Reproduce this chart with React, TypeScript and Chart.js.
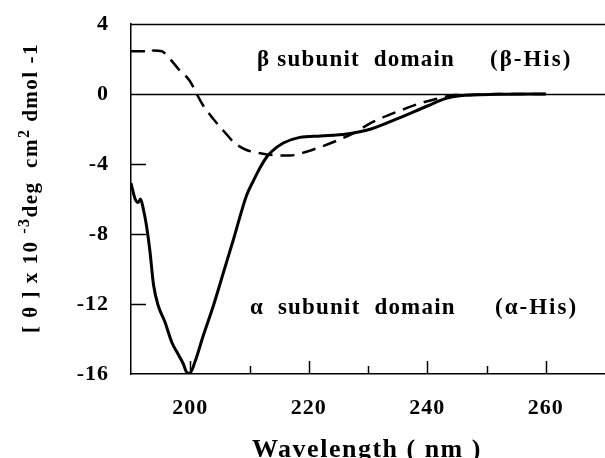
import React, { useEffect, useRef } from 'react';
import { Chart, registerables } from 'chart.js';

Chart.register(...registerables);

// α-His (solid)
const alphaWavelength = [190, 190.7, 191.2, 191.6, 192.1, 192.6, 193.2, 193.8, 194.6, 195.7, 196.9, 198.0, 198.8, 199.4, 199.9, 200.8, 202.2, 203.9, 205.6, 207.3, 209.5, 210.6, 211.8, 212.9, 213.7, 215.7, 218.5, 222, 226.4, 230.5, 235.4, 239.9, 243.2, 245.5, 252, 260];
const alphaTheta = [-5.1, -6.0, -6.2, -6.0, -6.6, -7.5, -9.0, -10.9, -12.1, -13.0, -14.2, -14.9, -15.4, -15.9, -15.95, -15.3, -13.8, -12.1, -10.2, -8.3, -5.8, -5.0, -4.2, -3.6, -3.3, -2.8, -2.48, -2.4, -2.29, -2.0, -1.35, -0.7, -0.25, -0.1, -0.02, 0];

// β-His (dashed)
const betaWavelength = [190, 192.4, 193.2, 193.8, 195.2, 196.6, 198.0, 199.9, 201.1, 202.2, 203.9, 205.6, 207.5, 209.5, 211.8, 214.3, 216.8, 219.6, 222.2, 224.5, 227.5, 230.5, 235.4, 239.3, 242.7, 244.5, 247.2, 252, 260];
const betaTheta = [2.44, 2.44, 2.35, 2.48, 2.44, 2.0, 1.43, 0.76, 0, -0.67, -1.43, -2.1, -2.8, -3.2, -3.38, -3.5, -3.52, -3.3, -3.0, -2.7, -2.25, -1.65, -0.95, -0.48, -0.19, -0.05, -0.05, 0, 0];

const xMin = 190;
const xMax = 270;
const xLabelTicks = [200, 220, 240, 260];
const xMinorTicks = [210, 230, 250];
const yMin = -16;
const yMax = 4;
const yMarkTicks = [-4, -8, -12];

const betaLabel = '\u03B2 subunit  domain';
const betaTag = '(\u03B2-His)';
const alphaLabel = '\u03B1  subunit  domain';
const alphaTag = '(\u03B1-His)';
const xTitle = 'Wavelength ( nm )';

const FONT = '"Liberation Serif", "Times New Roman", serif';

const decor = {
  id: 'decor',
  beforeDraw(chart: any) {
    chart.ctx.letterSpacing = '1px';
  },
  afterDraw(chart: any) {
    const { ctx, chartArea } = chart;
    const x = chart.scales.x;
    const y = chart.scales.y;
    ctx.save();
    ctx.strokeStyle = '#000';
    ctx.lineWidth = 1.5;
    const seg = (x1: number, y1: number, x2: number, y2: number) => {
      ctx.beginPath();
      ctx.moveTo(x1, y1);
      ctx.lineTo(x2, y2);
      ctx.stroke();
    };
    for (const v of [yMax, 0]) {
      const py = Math.round(y.getPixelForValue(v)) + 0.5;
      seg(chartArea.left, py, chartArea.right, py);
    }
    for (const v of yMarkTicks) {
      const py = Math.round(y.getPixelForValue(v)) + 0.5;
      seg(chartArea.left, py, chartArea.left + 15, py);
    }
    for (const v of xLabelTicks) {
      const px = Math.round(x.getPixelForValue(v)) + 0.5;
      seg(px, chartArea.bottom, px, chartArea.bottom - 13);
    }
    for (const v of xMinorTicks) {
      const px = Math.round(x.getPixelForValue(v)) + 0.5;
      seg(px, chartArea.bottom, px, chartArea.bottom - 8);
    }

    ctx.fillStyle = '#000';
    ctx.textBaseline = 'alphabetic';
    ctx.textAlign = 'left';
    ctx.font = `bold 23px ${FONT}`;
    ctx.letterSpacing = '1.2px';
    ctx.fillText(betaLabel, 257, 66);
    ctx.fillText(alphaLabel, 250, 314);
    ctx.letterSpacing = '2px';
    ctx.fillText(betaTag, 490, 66);
    ctx.fillText(alphaTag, 495, 314);

    // x title
    ctx.font = `bold 26px ${FONT}`;
    ctx.letterSpacing = '1.5px';
    ctx.textAlign = 'center';
    ctx.fillText(xTitle, 367, 457);

    // y title, rotated with superscripts
    const parts: [string, boolean][] = [
      ['[ \u03B8 ] x 10 ', false],
      ['-3', true],
      ['deg  cm', false],
      ['2', true],
      [' dmol -1', false],
    ];
    ctx.textAlign = 'left';
    ctx.letterSpacing = '1.5px';
    const normal = `bold 21px ${FONT}`;
    const sup = `bold 16px ${FONT}`;
    let total = 0;
    for (const [t, s] of parts) {
      ctx.font = s ? sup : normal;
      total += ctx.measureText(t).width;
    }
    ctx.translate(37, 188);
    ctx.rotate(-Math.PI / 2);
    let cx = -total / 2;
    for (const [t, s] of parts) {
      ctx.font = s ? sup : normal;
      ctx.fillText(t, cx, s ? -8 : 0);
      cx += ctx.measureText(t).width;
    }
    ctx.restore();
    ctx.letterSpacing = '0px';
  },
};

export default function App() {
  const ref = useRef<HTMLCanvasElement | null>(null);
  useEffect(() => {
    if (!ref.current) return;
    const chart = new Chart(ref.current, {
      type: 'line',
      data: {
        datasets: [
          {
            label: '\u03B1-His',
            data: alphaWavelength.map((w, i) => ({ x: w, y: alphaTheta[i] })),
            borderColor: '#000',
            borderWidth: 3,
            pointRadius: 0,
            tension: 0.3,
            cubicInterpolationMode: 'monotone',
            fill: false,
          },
          {
            label: '\u03B2-His',
            data: betaWavelength.map((w, i) => ({ x: w, y: betaTheta[i] })),
            borderColor: '#000',
            borderWidth: 2.5,
            borderDash: [14, 8],
            pointRadius: 0,
            tension: 0.3,
            cubicInterpolationMode: 'monotone',
            fill: false,
          },
        ],
      },
      options: {
        responsive: false,
        animation: false,
        events: [],
        layout: { padding: { top: 24, right: 0, left: 0, bottom: 0 } },
        plugins: { legend: { display: false }, tooltip: { enabled: false }, title: { display: false } },
        scales: {
          x: {
            type: 'linear',
            min: xMin,
            max: xMax,
            afterFit: (s: any) => {
              s.height = 84;
              s.paddingLeft = 0;
              s.paddingRight = 0;
            },
            afterBuildTicks: (s: any) => { s.ticks = xLabelTicks.map((v) => ({ value: v })); },
            grid: { display: false, drawTicks: false },
            border: { display: true, color: '#000', width: 1.5 },
            ticks: {
              color: '#000',
              padding: 21,
              maxRotation: 0,
              autoSkip: false,
              font: { family: FONT, size: 22, weight: 'bold' },
            },
          },
          y: {
            type: 'linear',
            min: yMin,
            max: yMax,
            afterFit: (s: any) => {
              s.width = 131;
              s.paddingTop = 0;
              s.paddingBottom = 0;
            },
            afterBuildTicks: (s: any) => {
              const t = [];
              for (let v = yMin; v <= yMax; v += 4) t.push({ value: v });
              s.ticks = t;
            },
            grid: { display: false, drawTicks: false },
            border: { display: true, color: '#000', width: 1.5 },
            ticks: {
              color: '#000',
              padding: 22,
              font: { family: FONT, size: 22, weight: 'bold' },
            },
          },
        },
      },
      plugins: [decor],
    } as any);
    return () => chart.destroy();
  }, []);
  return (
    <div style={{ position: 'fixed', left: 0, top: 0, width: 605, height: 458, background: '#fff' }}>
      <canvas ref={ref} width={605} height={458} style={{ display: 'block' }} />
    </div>
  );
}
